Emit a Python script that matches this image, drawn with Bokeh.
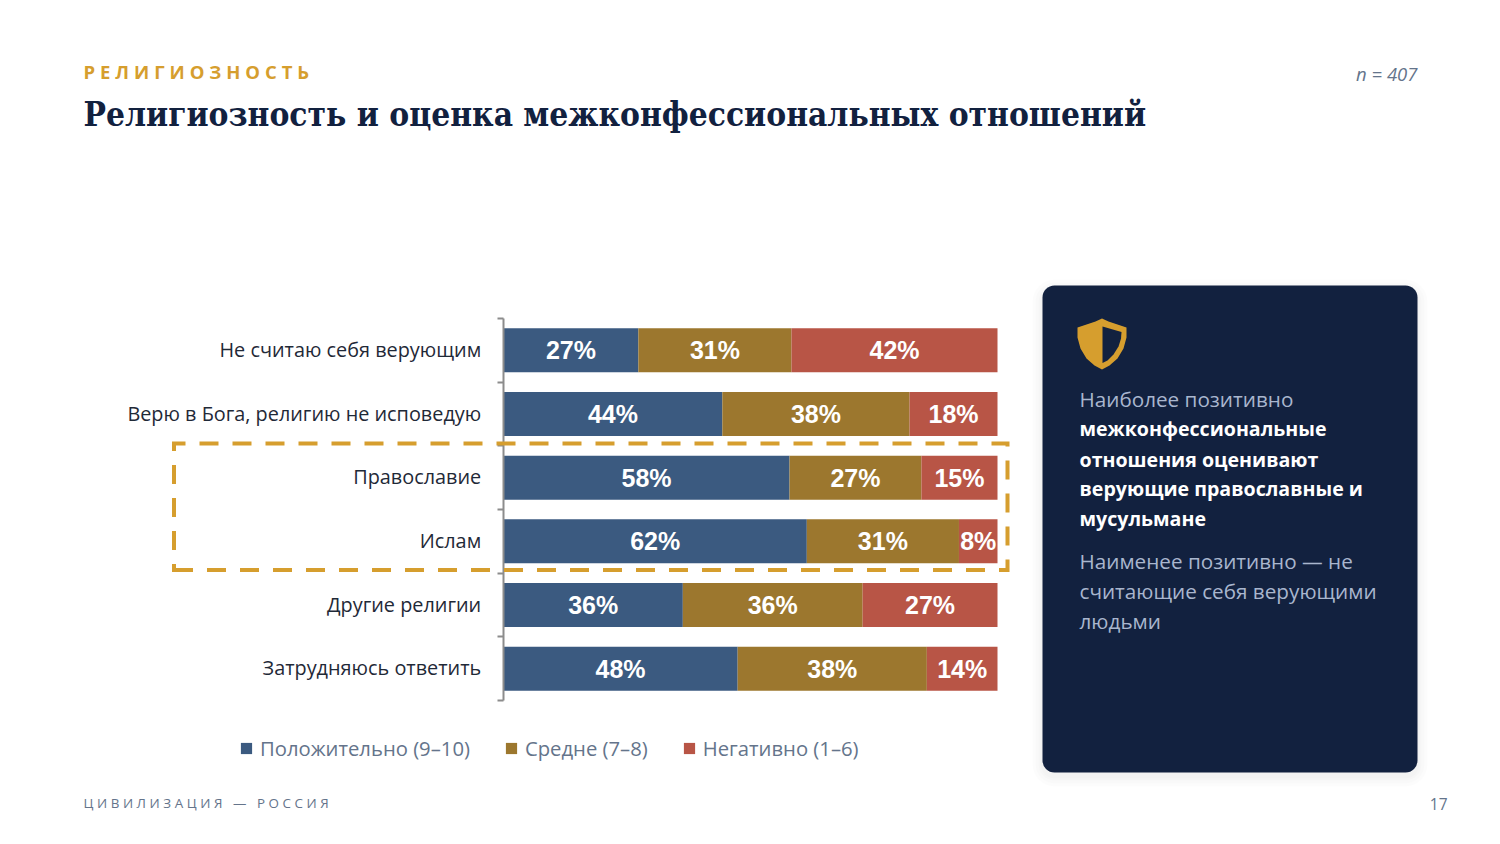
from bokeh.plotting import figure
from bokeh.models import Label, BoxAnnotation, PolyAnnotation, FixedTicker, Range1d, Legend, LegendItem, ColumnDataSource
from bokeh.core.properties import value
from bokeh.embed import file_html
from bokeh.resources import INLINE

categories = ["Не считаю себя верующим", "Верю в Бога, религию не исповедую", "Православие", "Ислам", "Другие религии", "Затрудняюсь ответить"]
positive = [27.3, 44.3, 57.9, 61.4, 36.3, 47.4]
medium = [31.0, 37.9, 26.7, 30.8, 36.4, 38.3]
negative = [41.7, 17.8, 15.4, 7.8, 27.3, 14.3]
positive_labels = ["27%", "44%", "58%", "62%", "36%", "48%"]
medium_labels = ["31%", "38%", "27%", "31%", "36%", "38%"]
negative_labels = ["42%", "18%", "15%", "8%", "27%", "14%"]
series_names = ["Положительно (9–10)", "Средне (7–8)", "Негативно (1–6)"]
colors = ["#3B5A80", "#9C772E", "#B85546"]

GOLD = "#D69E2E"
NAVY = "#12213F"
W, H = 1500, 844
PLOT_L, PLOT_R, PLOT_T, PLOT_B = 503, 997, 318, 700

n = len(categories)
ys = [i + 0.5 for i in range(n)]
label_ys = [y - 0.015 for y in ys]
sx = (PLOT_R - PLOT_L) / 100
sy = (PLOT_B - PLOT_T) / n
p = figure(width=W, height=H, output_backend="svg", toolbar_location=None,
           x_range=Range1d(-PLOT_L / sx, (W - PLOT_L) / sx),
           y_range=Range1d((H - PLOT_T) / sy, -PLOT_T / sy),
           min_border=0)
p.outline_line_color = None
p.grid.visible = False
p.xaxis.visible = False
yax = p.yaxis[0]
yax.fixed_location = -0.06
yax.bounds = (0, n)
yax.ticker = FixedTicker(ticks=label_ys, minor_ticks=list(range(n + 1)))
yax.major_label_overrides = {y: c for y, c in zip(label_ys, categories)}
yax.major_tick_out = 0
yax.major_tick_in = 0
yax.minor_tick_out = 6
yax.minor_tick_in = 0
yax.minor_tick_line_color = "#8C8C8C"
yax.minor_tick_line_width = 2
yax.axis_line_color = "#8C8C8C"
yax.axis_line_width = 2
yax.major_label_standoff = 16
yax.major_label_text_font = "Open Sans"
yax.major_label_text_font_size = "19.85px"
yax.major_label_text_color = "#1F2937"

left = [0.0] * n
renderers = []
for vals, labs, col in zip([positive, medium, negative], [positive_labels, medium_labels, negative_labels], colors):
    right = [a + b for a, b in zip(left, vals)]
    mid = [(a + b) / 2 for a, b in zip(left, right)]
    src = ColumnDataSource(dict(y=ys, left=left, right=right, mid=mid, lab=labs))
    r = p.hbar(y="y", left="left", right="right", height=0.69, source=src, fill_color=col,
               line_color=None)
    renderers.append(r)
    p.text(x="mid", y="y", text="lab", source=src, text_align="center", text_baseline="middle",
           text_color="white", text_font=value("Liberation Sans"), text_font_style="bold",
           text_font_size="25px")
    left = right

legend = Legend(items=[LegendItem(label=value(s), renderers=[r]) for s, r in zip(series_names, renderers)],
                orientation="horizontal", location=(239, H - 749 - 13),
                background_fill_alpha=0, border_line_color=None,
                glyph_width=14, glyph_height=14, label_text_font="Open Sans",
                label_text_font_size="20.25px", label_text_color="#64748B", spacing=34,
                label_standoff=7, padding=2, margin=0)
p.add_layout(legend, "center")


def text(s, x, y, size, color, font="Open Sans", style="normal", align="left"):
    p.add_layout(Label(x=x, y=y, x_units="canvas", y_units="canvas", text=s,
                       text_font=font, text_font_size=f"{size}px", text_font_style=style,
                       text_color=color, text_align=align, text_baseline="middle"))


def box(l, t, r, b, **kw):
    p.add_layout(BoxAnnotation(left=l, right=r, top=t, bottom=b,
                               left_units="canvas", right_units="canvas", top_units="canvas",
                               bottom_units="canvas", **kw))


def poly(pts, **kw):
    p.add_layout(PolyAnnotation(xs=[a for a, _ in pts], ys=[b for _, b in pts],
                                xs_units="canvas", ys_units="canvas", **kw))


# highlight frame, its dashes run from the lower left corner
poly([(173.5, 569.5), (1007, 569.5), (1007, 443), (173.5, 443)], fill_alpha=0, line_color=GOLD,
     line_width=4, line_dash="19 14", line_alpha=1, line_join="miter", line_cap="butt")

# panel with soft shadow
for g in (10, 7, 4, 2):
    box(1042 - g, 285 - g + 4, 1417 + g, 772 + g + 4, fill_color="#000000", fill_alpha=0.012, line_alpha=0, border_radius=12 + g)
box(1042, 285, 1417, 772, fill_color=NAVY, fill_alpha=1, line_alpha=0, border_radius=12)

# shield icon
poly([(1101.5, 318), (1108, 321), (1126, 327), (1126, 337), (1123, 348), (1117, 358), (1109, 365), (1101.5, 369),
      (1094, 365), (1086, 358), (1080, 348), (1077, 337), (1077, 327), (1095, 321)],
     fill_color=GOLD, fill_alpha=1, line_color=None)
poly([(1102, 326), (1121, 331.5), (1120.5, 338), (1118, 346), (1113, 354), (1107, 360), (1102, 362.5)],
     fill_color=NAVY, fill_alpha=1, line_color=None)

text("\u2009\u200a".join("РЕЛИГИОЗНОСТЬ"), 83, 71, 18.5, GOLD, style="bold")
text("Религиозность и оценка межконфессиональных отношений", 83, 114, 33.2, NAVY, font="DejaVu Serif Condensed", style="bold")
text("n = 407", 1417, 73, 18.5, "#64748B", style="italic", align="right")
P = 20.7
B = 19.6
text("Наиболее позитивно", 1079, 398, P, "#A9B6CE")
text("межконфессиональные", 1079, 428, B, "#FFFFFF", style="bold")
text("отношения оценивают", 1079, 459, B, "#FFFFFF", style="bold")
text("верующие православные и", 1079, 488, B, "#FFFFFF", style="bold")
text("мусульмане", 1079, 518, B, "#FFFFFF", style="bold")
text("Наименее позитивно — не", 1079, 560, P, "#A9B6CE")
text("считающие себя верующими", 1079, 590, P, "#A9B6CE")
text("людьми", 1079, 620, P, "#A9B6CE")
text("\u2009\u200a".join("ЦИВИЛИЗАЦИЯ — РОССИЯ"), 83, 802, 13.4, "#64748B")
text("17", 1447, 803, 15.5, "#64748B", align="right")

open("out.html", "w").write(file_html(p, INLINE))
